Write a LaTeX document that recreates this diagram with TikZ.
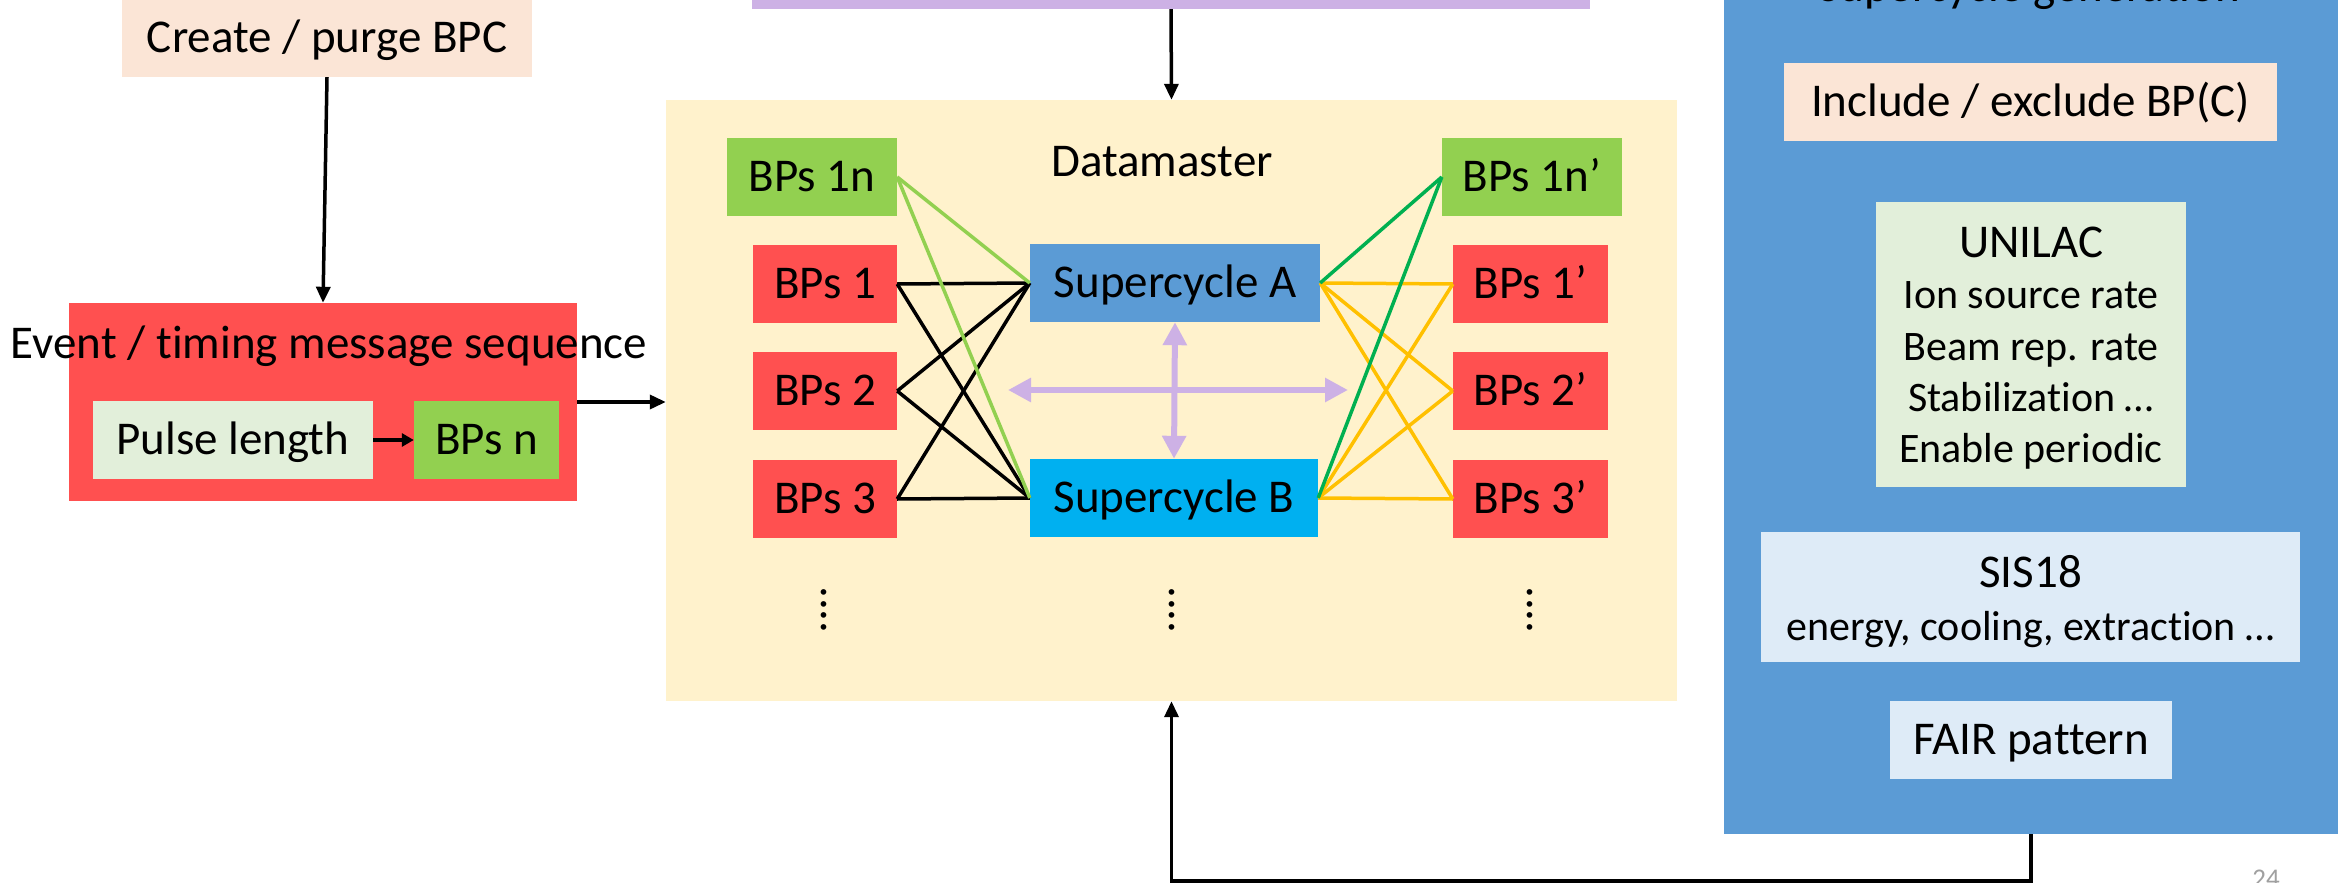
\documentclass[tikz,border=0pt]{standalone}
\usepackage{fontspec}
\setmainfont{Carlito}[Ligatures=NoCommon]
\usetikzlibrary{arrows.meta}
\definecolor{peach}{HTML}{FBE5D6}
\definecolor{bpred}{HTML}{FF5050}
\definecolor{palegreen}{HTML}{E2EFDA}
\definecolor{bpgreen}{HTML}{92D050}
\definecolor{lilac}{HTML}{CDB1E5}
\definecolor{cream}{HTML}{FFF2CC}
\definecolor{scblue}{HTML}{5B9BD5}
\definecolor{sccyan}{HTML}{00B0F0}
\definecolor{paleblue}{HTML}{DEEBF7}
\definecolor{darkgreen}{HTML}{00B050}
\definecolor{amber}{HTML}{FFC000}
\definecolor{pagegray}{HTML}{A0A0A0}
\newcommand\mainsize{\fontsize{47}{57}\selectfont}
\newcommand\subsize{\fontsize{42}{51}\selectfont}
\begin{document}
\begin{tikzpicture}[x=1pt,y=-1pt,
  box/.style={fill=#1, inner sep=0pt, text height=38pt, text depth=9pt, font=\mainsize},
  panel/.style={fill=#1, inner sep=0pt},
  lbl/.style={anchor=base, inner sep=0pt, font=\mainsize},
  sublbl/.style={anchor=base, inner sep=0pt, font=\subsize},
  vdots/.style={font=\mainsize, rotate=-90, inner sep=0pt},
  flow/.style={line width=3.5pt, -{Triangle[length=16pt,width=14pt]}},
  link/.style={line width=3.5pt, draw=#1},
  swap/.style={line width=6pt, draw=lilac, {Triangle[length=23pt,width=23pt]}-{Triangle[length=23pt,width=23pt]}},
]
\clip (0,0) rectangle (2338,883);
\useasboundingbox (0,0) rectangle (2338,883);

% ---- left: BPC creation and timing sequence
\node[box=peach, minimum width=410pt, minimum height=77pt] (create) at (327,38.5) {Create / purge BPC};
\node[panel=bpred, minimum width=508pt, minimum height=198pt] (evt) at (323,402) {};
\node[lbl] (evtT) at (329,358) {Event / timing message sequence};
\node[box=palegreen, minimum width=280pt, minimum height=78pt] (pulse) at (233,440) {Pulse length};
\node[box=bpgreen, minimum width=145pt, minimum height=78pt] (bpsn) at (486.5,440) {BPs n};

% ---- centre: Datamaster
\node[panel=lilac, minimum width=838pt, minimum height=69pt] (plan) at (1171,-25.5) {};
\node[panel=cream, minimum width=1011pt, minimum height=601pt] (dm) at (1171.5,400.5) {};
\node[lbl] (dmT) at (1162,176) {Datamaster};

\node[box=bpgreen, minimum width=170pt, minimum height=78pt] (b1n) at (812,177) {BPs 1n};
\node[box=bpred, minimum width=144pt, minimum height=78pt] (b1) at (825,284) {BPs 1};
\node[box=bpred, minimum width=144pt, minimum height=78pt] (b2) at (825,391) {BPs 2};
\node[box=bpred, minimum width=144pt, minimum height=78pt] (b3) at (825,499) {BPs 3};

\node[box=scblue, minimum width=290pt, minimum height=78pt] (sa) at (1175,283) {Supercycle A};
\node[box=sccyan, minimum width=288pt, minimum height=78pt] (sb) at (1174,498) {Supercycle B};

\node[box=bpgreen, minimum width=180pt, minimum height=78pt] (c1n) at (1532,177) {BPs 1n’};
\node[box=bpred, minimum width=155pt, minimum height=78pt] (c1) at (1530.5,284) {BPs 1’};
\node[box=bpred, minimum width=155pt, minimum height=78pt] (c2) at (1530.5,391) {BPs 2’};
\node[box=bpred, minimum width=155pt, minimum height=78pt] (c3) at (1530.5,499) {BPs 3’};

\node[vdots] (dl) at (824,610) {....};
\node[vdots] (dc) at (1172,610) {....};
\node[vdots] (dr) at (1530,610) {....};

% ---- right: supercycle generation
\node[panel=scblue, minimum width=614pt, minimum height=934pt] (gen) at (2031,367) {};
\node[lbl] (genT) at (2029,2) {Supercycle generation};
\node[box=peach, minimum width=493pt, minimum height=78pt] (incl) at (2030.5,102) {Include / exclude BP(C)};

\node[panel=palegreen, minimum width=310pt, minimum height=285pt] (unilac) at (2031,344.5) {};
\node[lbl] (uT) at (2031,257) {UNILAC};
\node[sublbl] (u1) at (2031,308) {Ion source rate};
\node[sublbl] (u2) at (2031,360) {Beam rep. rate};
\node[sublbl] (u3) at (2031,411) {Stabilization …};
\node[sublbl] (u4) at (2031,462) {Enable periodic};

\node[panel=paleblue, minimum width=539pt, minimum height=130pt] (sis) at (2030.5,597) {};
\node[lbl] (sT) at (2030.5,587) {SIS18};
\node[sublbl] (s1) at (2030.5,640) {energy, cooling, extraction …};

\node[box=paleblue, minimum width=282pt, minimum height=78pt] (fair) at (2031,740) {FAIR pattern};

\node[anchor=north, inner sep=0pt, font=\fontsize{27}{32}\selectfont, text=pagegray] (pg) at (2266,870) {24};

% ---- flow arrows
\draw[flow] (create.south) -- (evt.north);
\draw[flow] (evt.east) -- (evt.east -| dm.west);
\draw[line width=4pt, -{Triangle[length=12pt,width=13pt]}] (pulse.east) -- (bpsn.west);
\draw[flow] (plan.south) -- (dm.north);
\coordinate (turn) at (2031,881);
\draw[flow] (gen.south) -- (turn) -| (dm.south);

% ---- beam-pattern links, left side
\draw[link=black] (b1.east) -- (sa.west);
\draw[link=black] (b1.east) -- (sb.west);
\draw[link=black] (b2.east) -- (sa.west);
\draw[link=black] (b2.east) -- (sb.west);
\draw[link=black] (b3.east) -- (sa.west);
\draw[link=black] (b3.east) -- (sb.west);
\draw[link=bpgreen] (b1n.east) -- (sa.west);
\draw[link=bpgreen] (b1n.east) -- (sb.west);

% ---- beam-pattern links, right side
\draw[link=amber] (sa.east) -- (c1.west);
\draw[link=amber] (sa.east) -- (c2.west);
\draw[link=amber] (sa.east) -- (c3.west);
\draw[link=amber] (sb.east) -- (c1.west);
\draw[link=amber] (sb.east) -- (c2.west);
\draw[link=amber] (sb.east) -- (c3.west);
\draw[link=darkgreen] (sa.east) -- (c1n.west);
\draw[link=darkgreen] (sb.east) -- (c1n.west);

% ---- switching between supercycles
\coordinate (hl) at (1008,390);
\coordinate (hr) at (1348,390);
\draw[swap] (hl) -- (hr);
\draw[swap] (sa.south) -- (sb.north);
\end{tikzpicture}
\end{document}
